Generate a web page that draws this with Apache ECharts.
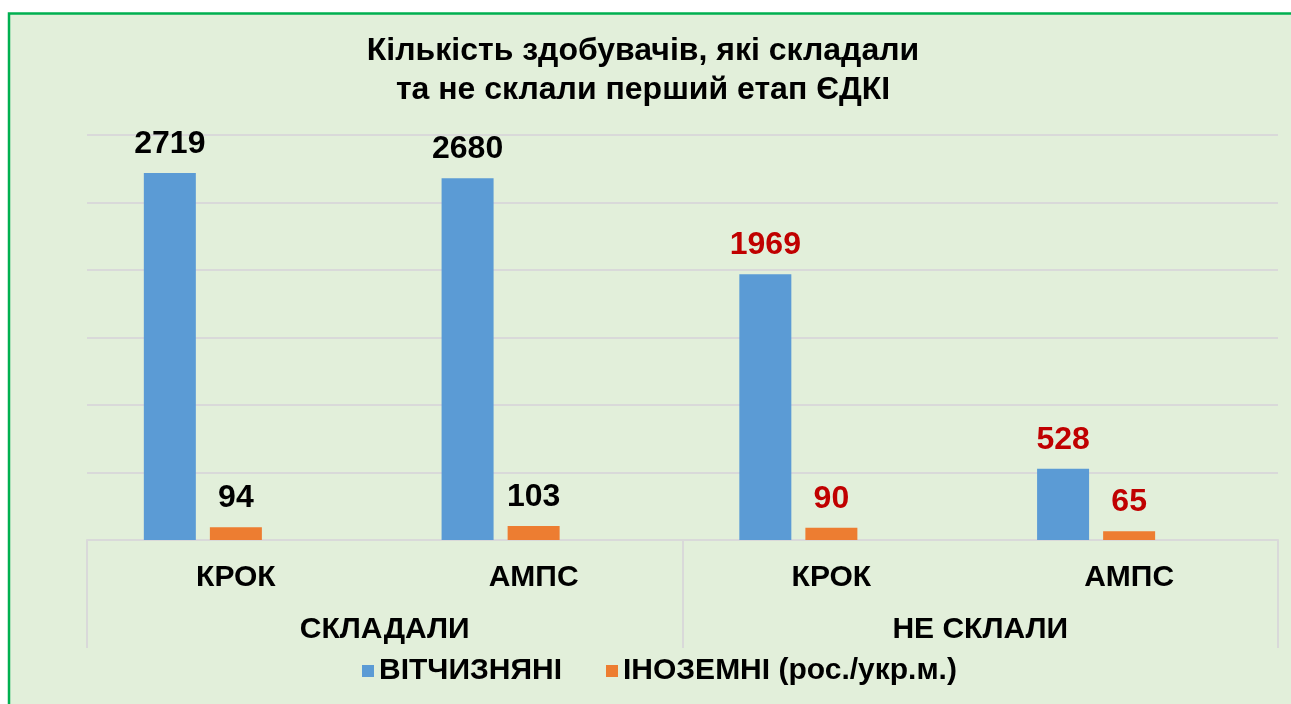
<!DOCTYPE html>
<html>
<head>
<meta charset="utf-8">
<script src="https://cdn.jsdelivr.net/npm/echarts@6/dist/echarts.min.js"></script>
<style>
html,body{margin:0;padding:0;background:#fff;}
#chart{width:1291px;height:704px;}
</style>
</head>
<body>
<div id="chart"></div>
<script>
const titleText = 'Кількість здобувачів, які складали\nта не склали перший етап ЄДКІ';
const categories = ['КРОК', 'АМПС', 'КРОК', 'АМПС'];
const groups = ['СКЛАДАЛИ', 'НЕ СКЛАЛИ'];
const seriesNames = ['ВІТЧИЗНЯНІ', 'ІНОЗЕМНІ (рос./укр.м.)'];
const domestic = [2719, 2680, 1969, 528];
const foreign = [94, 103, 90, 65];
const yTicks = [0, 500, 1000, 1500, 2000, 2500, 3000];

const font = 'Arial, "Liberation Sans", sans-serif';
const chart = echarts.init(document.getElementById('chart'));

function withLabels(arr) {
  return arr.map((v, i) => ({
    value: v,
    label: { color: i < 2 ? '#000000' : '#C00000' }
  }));
}

const labelCommon = {
  show: true,
  position: 'top',
  distance: 13,
  fontFamily: font,
  fontWeight: 'bold',
  fontSize: 32
};

chart.setOption({
  backgroundColor: '#ffffff',
  animation: false,
  graphic: [{
    type: 'rect',
    z: -100,
    silent: true,
    shape: { x: 9, y: 13.5, width: 1320, height: 720 },
    style: { fill: '#E2EFDA', stroke: '#00B050', lineWidth: 2.5 }
  }],
  title: {
    text: titleText,
    left: 638,
    textAlign: 'center',
    top: 27,
    textStyle: {
      fontFamily: font,
      fontWeight: 'bold',
      fontSize: 32,
      lineHeight: 39,
      color: '#000000'
    }
  },
  legend: {
    data: seriesNames,
    left: 357,
    top: 651,
    icon: 'rect',
    itemWidth: 12,
    itemHeight: 12,
    itemGap: 44,
    textStyle: {
      fontFamily: font,
      fontWeight: 'bold',
      fontSize: 30,
      color: '#000000'
    }
  },
  grid: { left: 87, right: 13, top: 135, bottom: 164 },
  xAxis: [{
    type: 'category',
    data: categories,
    position: 'bottom',
    axisLine: { show: true, lineStyle: { color: '#D9D9D9', width: 2 } },
    axisTick: { show: false },
    axisLabel: {
      margin: 23,
      fontFamily: font,
      fontWeight: 'bold',
      fontSize: 30,
      color: '#000000'
    }
  }, {
    type: 'category',
    data: groups,
    position: 'bottom',
    axisLine: { show: false },
    axisTick: { show: true, length: 108, lineStyle: { color: '#D9D9D9', width: 2 } },
    axisLabel: {
      margin: 75,
      fontFamily: font,
      fontWeight: 'bold',
      fontSize: 30,
      color: '#000000'
    }
  }],
  yAxis: {
    type: 'value',
    min: yTicks[0],
    max: yTicks[yTicks.length - 1],
    interval: yTicks[1] - yTicks[0],
    axisLine: { show: false },
    axisTick: { show: false },
    axisLabel: { show: false },
    splitLine: { lineStyle: { color: '#D9D9D9', width: 2 } }
  },
  series: [{
    name: seriesNames[0],
    type: 'bar',
    xAxisIndex: 0,
    barWidth: 52,
    barGap: '27%',
    itemStyle: { color: '#5B9BD5' },
    label: labelCommon,
    data: withLabels(domestic)
  }, {
    name: seriesNames[1],
    type: 'bar',
    xAxisIndex: 0,
    barWidth: 52,
    barGap: '27%',
    itemStyle: { color: '#ED7D31' },
    label: labelCommon,
    data: withLabels(foreign)
  }, {
    name: '',
    type: 'bar',
    xAxisIndex: 0,
    barWidth: 52,
    barGap: '27%',
    data: []
  }]
});
</script>
</body>
</html>
